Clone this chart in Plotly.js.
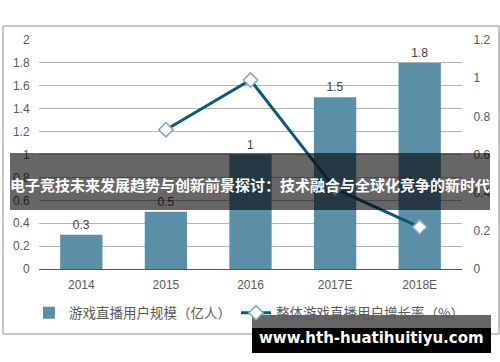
<!DOCTYPE html>
<html><head><meta charset="utf-8">
<script src="https://cdn.plot.ly/plotly-3.0.1.min.js"></script>
<style>body{margin:0;padding:0;background:#fff}</style>
</head><body>
<div id="chart" style="width:500px;height:362px"></div>
<script>
const categories = ['2014', '2015', '2016', '2017E', '2018E'];
const userScale = [0.3, 0.5, 1, 1.5, 1.8];
const growthCats = ['2015', '2016', '2017E', '2018E'];
const growthRate = [0.73, 0.99, 0.42, 0.22];
const leftTicks = [0, 0.2, 0.4, 0.6, 0.8, 1, 1.2, 1.4, 1.6, 1.8, 2];
const rightTicks = [0, 0.2, 0.4, 0.6, 0.8, 1, 1.2];
const seriesNames = ['游戏直播用户规模（亿人）', '整体游戏直播用户增长率（%）'];
const bannerText = '电子竞技未来发展趋势与创新前景探讨：技术融合与全球化竞争的新时代';
const watermark = 'www.hth-huatihuitiyu.com';

const W = 500, H = 362, L = 39, R = 38, T = 40, B = 93;
const pw = W - L - R, ph = H - T - B;
const px = x => (x - L) / pw;
const py = y => (H - B - y) / ph;

const font = 'Liberation Sans, Arial, Noto Sans CJK SC, sans-serif';
const cjk = 'Noto Sans CJK SC, sans-serif';

const traces = [
  {
    type: 'bar', x: categories, y: userScale, name: seriesNames[0],
    marker: {color: '#5b8fa8'}, width: 0.5,
    text: userScale.map(String), textposition: 'outside', cliponaxis: false,
    textfont: {family: font, size: 12, color: '#404040'}, hoverinfo: 'none'
  },
  {
    type: 'scatter', mode: 'lines+markers', x: growthCats, y: growthRate, yaxis: 'y2',
    name: seriesNames[1],
    line: {color: '#0e5a70', width: 3},
    marker: {symbol: 'diamond', size: 11, color: '#ffffff', line: {color: '#7fa8bb', width: 1.5}},
    cliponaxis: false, hoverinfo: 'none'
  }
];

const layout = {
  width: W, height: H,
  margin: {l: L, r: R, t: T, b: B},
  paper_bgcolor: '#ffffff', plot_bgcolor: '#ffffff',
  font: {family: font, size: 12, color: '#595959'},
  showlegend: true,
  legend: {orientation: 'h', x: px(29), xanchor: 'left', y: py(313), yanchor: 'middle',
           font: {family: cjk, size: 13.5, color: '#595959'}, bgcolor: 'rgba(0,0,0,0)', itemwidth: 30},
  xaxis: {type: 'category', categoryarray: categories, showgrid: false, showline: true,
          linecolor: '#555555', linewidth: 1, ticks: 'outside', ticklen: 5, tickcolor: 'rgba(0,0,0,0)',
          tickfont: {family: font, size: 12, color: '#595959'}, zeroline: false},
  yaxis: {range: [0, 2], tickvals: leftTicks, ticktext: leftTicks.map(String), showgrid: true,
          gridcolor: '#b4b4b4', gridwidth: 1, zeroline: false, showline: false,
          ticks: 'outside', ticklen: 6, tickcolor: 'rgba(0,0,0,0)',
          tickfont: {family: font, size: 12, color: '#595959'}},
  yaxis2: {range: [0, 1.2], tickvals: rightTicks, ticktext: rightTicks.map(String), overlaying: 'y',
           side: 'right', showgrid: false, zeroline: false, showline: false,
           ticks: 'outside', ticklen: 8, tickcolor: 'rgba(0,0,0,0)',
           tickfont: {family: font, size: 12, color: '#595959'}},
  shapes: [
    {type: 'rect', xref: 'paper', yref: 'paper', x0: px(3), x1: px(499), y0: py(26), y1: py(334),
     line: {color: '#8c8c8c', width: 1}, fillcolor: 'rgba(0,0,0,0)', layer: 'below'},
    {type: 'rect', xref: 'paper', yref: 'paper', x0: px(10), x1: px(490), y0: py(153), y1: py(210),
     line: {width: 0}, fillcolor: 'rgba(0,0,0,0.6)', layer: 'above'},
    {type: 'rect', xref: 'paper', yref: 'paper', x0: px(252), x1: px(491), y0: py(315), y1: py(328),
     line: {width: 0}, fillcolor: 'rgba(0,0,0,0.6)', layer: 'above'},
    {type: 'rect', xref: 'paper', yref: 'paper', x0: px(252), x1: px(491), y0: py(328), y1: py(353),
     line: {width: 0}, fillcolor: '#000000', layer: 'above'}
  ],
  annotations: [
    {text: '<b>' + bannerText + '</b>', xref: 'paper', yref: 'paper', x: px(250), y: py(184),
     xanchor: 'center', yanchor: 'middle', showarrow: false,
     font: {family: cjk, size: 15, color: '#ffffff'}},
    {text: '<b>' + watermark + '</b>', xref: 'paper', yref: 'paper', x: px(371), y: py(338),
     xanchor: 'center', yanchor: 'middle', showarrow: false,
     font: {family: 'DejaVu Sans, sans-serif', size: 15, color: '#ffffff'}}
  ]
};

Plotly.newPlot('chart', traces, layout, {displayModeBar: false, staticPlot: true});
</script>
</body></html>
